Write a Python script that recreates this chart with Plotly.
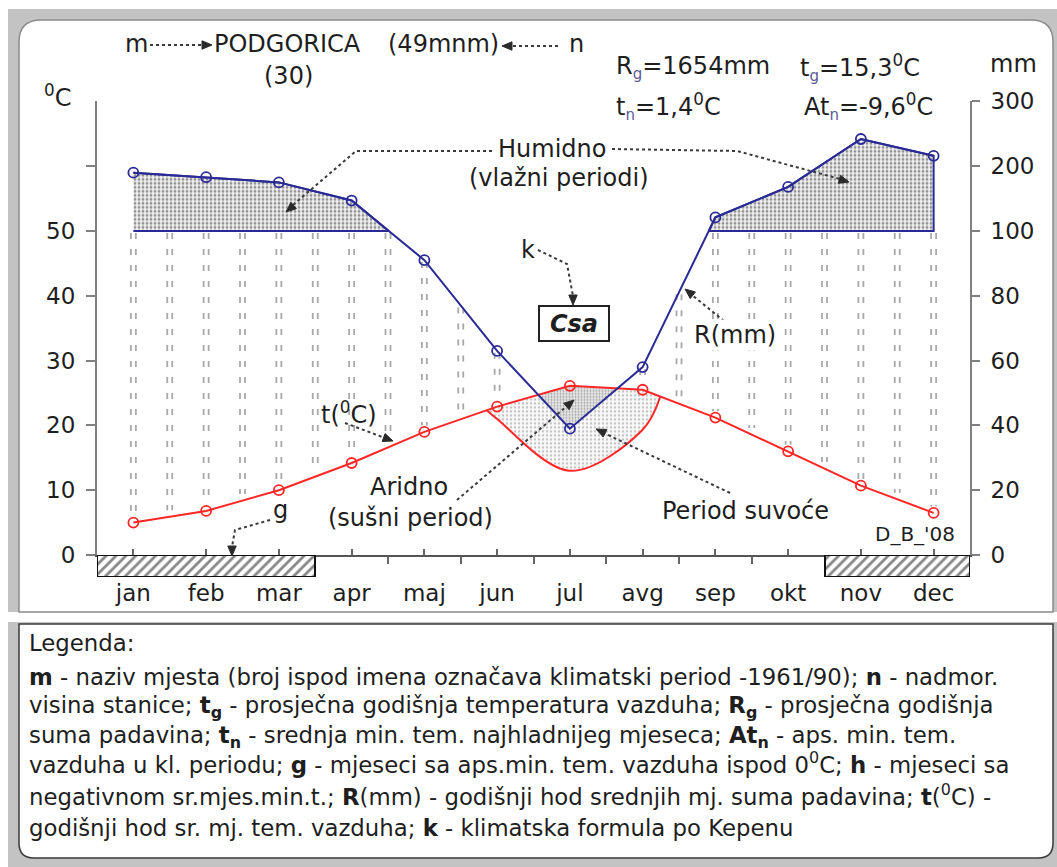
import numpy as np
import plotly.graph_objects as go

# ---------------- data ----------------
months = ['jan', 'feb', 'mar', 'apr', 'maj', 'jun', 'jul', 'avg', 'sep', 'okt', 'nov', 'dec']
temp_c = [5.0, 6.8, 10.0, 14.2, 19.0, 22.9, 26.1, 25.5, 21.2, 16.0, 10.7, 6.5]
precip_mm = [190, 183, 175, 147, 91, 63, 39, 58, 121, 168, 242, 216]
g_months = ['jan', 'feb', 'mar', 'nov', 'dec']
left_tickvals = [0, 10, 20, 30, 40, 50, 60]
left_ticktext = ['0', '10', '20', '30', '40', '50', '']
right_tick_mm = [0, 20, 40, 60, 80, 100, 200, 300]

W, H = 1057, 867
FONT = 'DejaVu Sans'
TXT = '#1e1e1e'
RED = '#ff2626'
BLUE = '#2a2a96'


def px(x):
    return x / W


def py(y):
    return 1 - y / H


def mm_to_eq(mm):
    """Walter-Lieth scale: 20 mm = 10 C up to 100 mm, above that 100 mm = 10 C."""
    mm = np.asarray(mm, float)
    return np.where(mm <= 100, mm / 2.0, 50 + (mm - 100) / 10.0)


def above_intervals(xs, a, b):
    """Intervals where a > b, with crossing points added at the ends."""
    xs = np.asarray(xs, float)
    d = a - b
    segs, cur = [], None
    for i in range(len(xs)):
        if d[i] > 0:
            if cur is None:
                cur = ([], [], [])
                if i > 0:
                    t = d[i - 1] / (d[i - 1] - d[i])
                    xc = xs[i - 1] + t * (xs[i] - xs[i - 1])
                    bc = b[i - 1] + t * (b[i] - b[i - 1])
                    cur[0].append(xc); cur[1].append(bc); cur[2].append(bc)
            cur[0].append(xs[i]); cur[1].append(a[i]); cur[2].append(b[i])
        elif cur is not None:
            t = d[i - 1] / (d[i - 1] - d[i])
            xc = xs[i - 1] + t * (xs[i] - xs[i - 1])
            bc = b[i - 1] + t * (b[i] - b[i - 1])
            cur[0].append(xc); cur[1].append(bc); cur[2].append(bc)
            segs.append(cur)
            cur = None
    if cur is not None:
        segs.append(cur)
    return [(np.array(s[0]), np.array(s[1]), np.array(s[2])) for s in segs]


idx = np.arange(len(months))
T = np.array(temp_c, float)
P = np.array(precip_mm, float)
Peq = mm_to_eq(P)
P3 = P / 3.0
right_tickvals = [float(v) for v in mm_to_eq(right_tick_mm)]

fig = go.Figure()

# ---------------- vertical humid hatching ----------------
pos = np.arange(0, 11.01, 0.5)
Ph = np.interp(pos, idx, Peq)
Th = np.interp(pos, idx, T)
off = 2.5 / 72.75
for s in (-1, 1):
    hx, hy = [], []
    for p, a, b in zip(pos, Ph, Th):
        top = min(a, 50.0) - 0.3
        bot = b + 1.0
        if top - bot > 0.8:
            hx += [p + s * off, p + s * off, None]
            hy += [top, bot, None]
    fig.add_trace(go.Scatter(x=hx, y=hy, mode='lines', hoverinfo='skip',
                             line=dict(color='#a8a8a8', width=1.8, dash='6px,10px'),
                             showlegend=False))

# ---------------- drought period (P/3 < T) ----------------
for xs, a, b in above_intervals(idx, T, P3):
    fig.add_trace(go.Scatter(x=xs, y=b, mode='lines', hoverinfo='skip',
                             line=dict(color=RED, width=2, shape='spline', smoothing=1.0),
                             showlegend=False))
    fig.add_trace(go.Scatter(x=xs, y=a, mode='lines', hoverinfo='skip',
                             line=dict(color=RED, width=0), fill='tonexty', fillcolor='white',
                             fillpattern=dict(shape='.', fgcolor='#8c8c8c', bgcolor='#fbfbfb',
                                              size=4, solidity=0.3),
                             showlegend=False))

# ---------------- arid period (P/2 < T) ----------------
for xs, a, b in above_intervals(idx, T, Peq):
    fig.add_trace(go.Scatter(x=list(xs) + list(xs[::-1]), y=list(a) + list(b[::-1]),
                             mode='lines', hoverinfo='skip', fill='toself', fillcolor='white',
                             line=dict(width=0, color=RED),
                             fillpattern=dict(shape='.', fgcolor='#5a5a5a', bgcolor='#e8e8e8',
                                              size=3, solidity=0.35),
                             showlegend=False))

# ---------------- temperature ----------------
fig.add_trace(go.Scatter(x=idx, y=T, mode='lines+markers', name='t(0C)',
                         line=dict(color=RED, width=2),
                         marker=dict(symbol='circle-open', size=10, color=RED,
                                     line=dict(color=RED, width=1.8)),
                         showlegend=False))

# ---------------- humid (>100 mm) areas ----------------
for xs, a, b in above_intervals(idx, Peq, np.full(len(idx), 50.0)):
    fig.add_trace(go.Scatter(x=list(xs) + list(xs[::-1]), y=list(a) + list(b[::-1]),
                             mode='lines', hoverinfo='skip', fill='toself', fillcolor='white',
                             line=dict(color=BLUE, width=2),
                             fillpattern=dict(shape='.', fgcolor='#303030', bgcolor='#f2f2f2',
                                              size=4, solidity=0.4),
                             yaxis='y2', showlegend=False))

# ---------------- precipitation ----------------
fig.add_trace(go.Scatter(x=idx, y=Peq, mode='lines+markers', name='R(mm)',
                         customdata=P, hovertemplate='%{customdata} mm<extra></extra>',
                         line=dict(color=BLUE, width=2),
                         marker=dict(symbol='circle-open', size=10, color=BLUE,
                                     line=dict(color=BLUE, width=1.8)),
                         yaxis='y2', showlegend=False))

# ---------------- months with abs. min below 0 (hatched bars) ----------------
gi = sorted(months.index(m) for m in g_months)
groups, start = [], gi[0]
for k in range(1, len(gi) + 1):
    if k == len(gi) or gi[k] != gi[k - 1] + 1:
        groups.append((start, gi[k - 1]))
        if k < len(gi):
            start = gi[k]
fig.add_trace(go.Bar(x=[(s + e) / 2 for s, e in groups], y=[1] * len(groups),
                     width=[e - s + 1 for s, e in groups], base=0,
                     marker=dict(color='white', line=dict(color='#111', width=2),
                                 pattern=dict(shape='/', fgcolor='#111', bgcolor='white',
                                              size=7, solidity=0.4)),
                     xaxis='x2', yaxis='y3', hoverinfo='skip', showlegend=False))

# ---------------- shapes: frames ----------------
shapes = []


def P_(cmds, close=True):
    """cmds: list of (command, [points]); every command written explicitly."""
    parts = []
    for cmd, coords in cmds:
        if cmd in ('M', 'L'):
            for x, y in coords:
                parts.append(f'{cmd} {px(x):.5f},{py(y):.5f}')
                if cmd == 'M':
                    cmd = 'L'
        else:
            parts.append(cmd + ' ' + ' '.join(f'{px(x):.5f},{py(y):.5f}' for x, y in coords))
    return ' '.join(parts) + (' Z' if close else '')


shapes.append(dict(type='rect', xref='paper', yref='paper', layer='below',
                   x0=px(8), x1=px(1057), y0=py(612), y1=py(9),
                   fillcolor='#c3c3c3', line=dict(width=0)))
shapes.append(dict(type='path', xref='paper', yref='paper', layer='below',
                   path=P_([('M', [(19, 612)]), ('L', [(19, 42)]), ('Q', [(19, 20), (41, 20)]),
                            ('L', [(1031, 20)]), ('Q', [(1053, 20), (1053, 42)]),
                            ('L', [(1053, 612)])]),
                   fillcolor='white', line=dict(color='#8a8a8a', width=1.5)))
shapes.append(dict(type='rect', xref='paper', yref='paper', layer='below',
                   x0=px(8), x1=px(1057), y0=py(867), y1=py(622),
                   fillcolor='#c3c3c3', line=dict(width=0)))
shapes.append(dict(type='path', xref='paper', yref='paper', layer='below',
                   path=P_([('M', [(19, 624)]), ('L', [(1053, 624), (1053, 843)]),
                            ('Q', [(1053, 858), (1038, 858)]), ('L', [(34, 858)]),
                            ('Q', [(19, 858), (19, 843)])]),
                   fillcolor='white', line=dict(color='#3a3a3a', width=1.5)))

# dotted leader lines
leaders = [
    [(150, 45), (204, 45)],
    [(558, 46), (510, 46)],
    [(492, 151), (356, 151), (293, 205)],
    [(612, 149), (737, 151), (840, 179)],
    [(538, 250), (567, 264), (573, 296)],
    [(724, 321), (692, 295)],
    [(345, 423), (385, 438)],
    [(457, 500), (567, 406)],
    [(730, 493), (604, 433)],
    [(270, 520), (235, 530), (232, 547)],
]
for pts in leaders:
    shapes.append(dict(type='path', xref='paper', yref='paper',
                       path=P_([('M', [pts[0]]), ('L', pts[1:])], close=False),
                       line=dict(color='#3a3a3a', width=2, dash='dot')))

# arrow heads as small filled triangles: (tip x, tip y, direction dx, dy)
heads = [
    (212, 45, 1, 0), (502, 46, -1, 0), (286, 212, -1, 0.85), (849, 182, 1, 0.28),
    (573, 305, 0, 1), (685, 289, -1, -0.8), (393, 441, 1, 0.37), (574, 400, 1, -0.85),
    (596, 429, -1, -0.47), (232, 556, 0, 1),
]
for tx, ty, dx, dy in heads:
    n = (dx * dx + dy * dy) ** 0.5
    ux, uy = dx / n, dy / n
    L, w = 10.0, 4.2
    bx, by = tx - ux * L, ty - uy * L
    pts = [(tx, ty), (bx - uy * w, by + ux * w), (bx + uy * w, by - ux * w)]
    shapes.append(dict(type='path', xref='paper', yref='paper',
                       path=P_([('M', [pts[0]]), ('L', pts[1:])]),
                       fillcolor='#2a2a2a', line=dict(color='#2a2a2a', width=1)))

annotations = []


def T_(text, x, y, size=24, anchor='center', **kw):
    d = dict(x=px(x), y=py(y), xref='paper', yref='paper', text=text, showarrow=False,
             xanchor=anchor, yanchor='middle', font=dict(family=FONT, size=size, color=TXT))
    d.update(kw)
    annotations.append(d)


SUB = lambda s: f'<sub><span style="color:#5a5a96;font-size:15px">{s}</span></sub>'
T_('m', 136, 44)
T_('PODGORICA', 287, 44)
T_('(49mnm)', 443, 44)
T_('n', 576, 44)
T_('(30)', 288, 76)
T_('R' + SUB('g') + '=1654mm', 614, 68, anchor='left')
T_('t' + SUB('g') + '=15,3<sup>0</sup>C', 798, 68, anchor='left')
T_('t' + SUB('n') + '=1,4<sup>0</sup>C', 614, 106, anchor='left')
T_('At' + SUB('n') + '=-9,6<sup>0</sup>C', 802, 106, anchor='left')
T_('mm', 1013, 64)
T_('<sup>0</sup>C', 42, 96, anchor='left')
T_('Humidno', 552, 149)
T_('(vlažni periodi)', 559, 178)
T_('k', 528, 250)
T_('<b><i>Csa</i></b>', 574, 323, bgcolor='white', bordercolor='#222', borderwidth=2,
   borderpad=1, width=66, height=31)
T_('R(mm)', 735, 335, bgcolor='white')
T_('t(<sup>0</sup>C)', 349, 413)
T_('Aridno', 409, 487)
T_('(sušni period)', 410, 518)
T_('Period suvoće', 745, 511)
T_('g', 280, 510)
T_("D_B_'08", 915, 534, size=20)

legend_lines = [
    'Legenda:',
    '<b>m</b> - naziv mjesta (broj ispod imena označava klimatski period -1961/90); <b>n</b> - nadmor.',
    'visina stanice; <b>t<sub>g</sub></b> - prosječna godišnja temperatura vazduha; <b>R<sub>g</sub></b> - prosječna godišnja',
    'suma padavina; <b>t<sub>n</sub></b> - srednja min. tem. najhladnijeg mjeseca; <b>At<sub>n</sub></b> - aps. min. tem.',
    'vazduha u kl. periodu; <b>g</b> - mjeseci sa aps.min. tem. vazduha ispod 0<sup>0</sup>C; <b>h</b> - mjeseci sa',
    'negativnom sr.mjes.min.t.; <b>R</b>(mm) - godišnji hod srednjih mj. suma padavina; <b>t</b>(<sup>0</sup>C) -',
    'godišnji hod sr. mj. tem. vazduha; <b>k</b> - klimatska formula po Kepenu',
]
legend_y = [643, 676.5, 707, 737, 763, 795, 828]
for line, ly in zip(legend_lines, legend_y):
    T_(line, 27, ly, size=22.8, anchor='left')

# ---------------- layout ----------------
x_dom = [px(97), px(970)]
y_dom = [py(555), py(101.4)]
y3_dom = [py(577), py(555)]
tickfont = dict(family=FONT, size=23, color=TXT)

fig.update_layout(
    width=W, height=H, margin=dict(l=0, r=0, t=0, b=0, pad=0, autoexpand=False),
    paper_bgcolor='white', plot_bgcolor='rgba(0,0,0,0)',
    showlegend=False, bargap=0,
    shapes=shapes, annotations=annotations,
    xaxis=dict(domain=x_dom, range=[-0.5, 11.5], anchor='y', showgrid=False, zeroline=False,
               automargin=False, showline=True, linecolor='#555', linewidth=2,
               tickvals=list(idx), ticks='inside', ticklen=6, tickwidth=2, tickcolor='#666',
               showticklabels=False,
               minor=dict(tickvals=[i + 0.5 for i in range(11)], ticks='outside', ticklen=7,
                          tickwidth=2, tickcolor='#666')),
    xaxis2=dict(domain=x_dom, range=[-0.5, 11.5], anchor='y3', matches='x', showgrid=False,
                automargin=False, zeroline=False, showline=False, tickvals=list(idx),
                ticktext=months, ticks='', tickfont=tickfont),
    yaxis=dict(domain=y_dom, range=[0, 70], anchor='x', showgrid=False, zeroline=False,
               automargin=False, showline=True, linecolor='#808080', linewidth=2,
               tickvals=left_tickvals, ticktext=left_ticktext, ticks='outside', ticklen=9,
               tickwidth=2, tickcolor='#808080', tickfont=tickfont, ticklabelstandoff=6),
    yaxis2=dict(domain=y_dom, range=[0, 70], overlaying='y', side='right', anchor='x',
                automargin=False, showgrid=False, zeroline=False, showline=True,
                linecolor='#808080', linewidth=2, tickvals=right_tickvals,
                ticktext=[str(v) for v in right_tick_mm],
                ticks='outside', ticklen=8, tickwidth=2, tickcolor='#808080',
                tickfont=tickfont, ticklabelstandoff=6),
    yaxis3=dict(domain=y3_dom, range=[0, 1], anchor='x2', visible=False, fixedrange=True,
                automargin=False),
)

fig.write_html('out.html')
